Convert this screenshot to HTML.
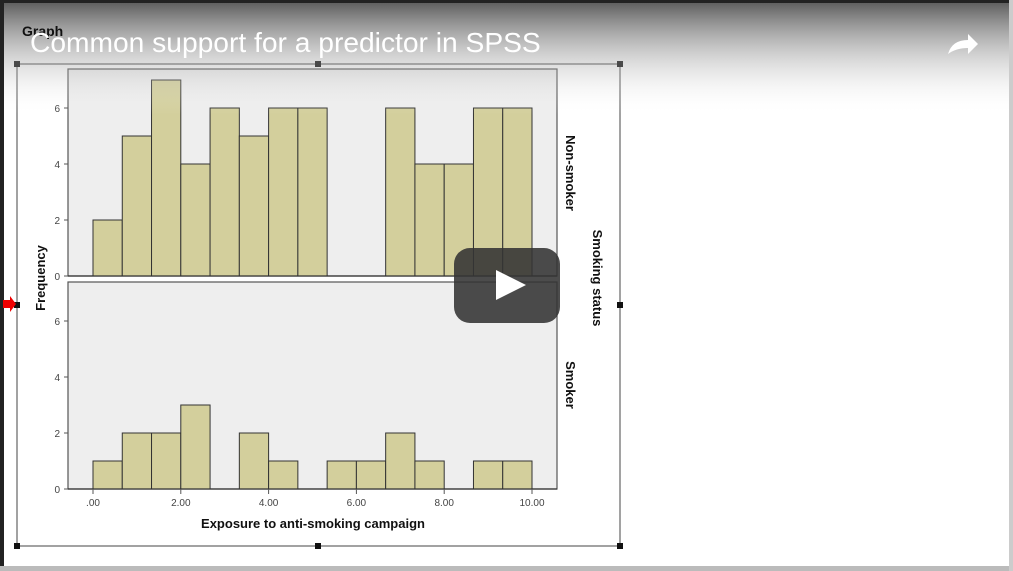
<!DOCTYPE html>
<html><head><meta charset="utf-8"><style>
body{margin:0;width:1013px;height:571px;overflow:hidden;background:#fff;font-family:"Liberation Sans",sans-serif;position:relative}
</style></head><body>
<div style="position:absolute;left:0;top:0;width:1013px;height:571px;background:#fff"></div>
<svg width="1013" height="571" style="position:absolute;left:0;top:0">
<defs><linearGradient id="tg" x1="0" y1="0" x2="0" y2="1">
<stop offset="0" stop-color="#3a3a3a" stop-opacity="0.85"/><stop offset="1" stop-color="#fff" stop-opacity="0"/></linearGradient></defs>
<g id="g"></g>
<rect x="0" y="0" width="1013" height="115" fill="url(#tg)"/>
<rect x="0" y="0" width="1013" height="3" fill="#222"/>
<rect x="0" y="0" width="4" height="571" fill="#222"/>
<rect x="0" y="566" width="1013" height="5" fill="#bbb"/>
<rect x="1009" y="0" width="4" height="571" fill="#ccc"/>
<text x="22" y="36" font-size="14" font-weight="bold" fill="#111">Graph</text>
<text x="30" y="52" font-size="28.2" fill="#fff">Common support for a predictor in SPSS</text>
<path d="M948 54 q4-14 20-14 v-6 l10 10 -10 10 v-6 q-12 0 -20 6z" fill="#fff"/>
<g><rect x="454" y="248" width="106" height="75" rx="16" fill="#333" fill-opacity="0.88"/><path d="M496 270 L526 285 L496 300Z" fill="#fff"/></g>
<path d="M3 300 h7 v-4 l6 8 -6 8 v-4 h-7z" fill="#e00"/>
</svg>
<script>
const bins=[0,1,2,3,4,5,6,7,8,9,10,11,12,13,14];
const nonSmoker=[2,5,7,4,6,5,6,6,0,0,6,4,4,6,6];
const smoker=[1,2,2,3,0,2,1,0,1,1,2,1,0,1,1];
const yTicks=[0,2,4,6];
const xTicks=[0,2,4,6,8,10];
const xLabels=[".00","2.00","4.00","6.00","8.00","10.00"];
const NS="http://www.w3.org/2000/svg";
const g=document.getElementById('g');
function el(t,a,p){const e=document.createElementNS(NS,t);for(const k in a)e.setAttribute(k,a[k]);(p||g).appendChild(e);return e;}
const xs=v=>93+v*43.9;
const binW=10/15;
function panel(top,bottom,data,name){
  const y=v=>bottom-v*28;
  const r=el('rect',{x:68,y:top,width:489,height:bottom-top,fill:'#eeeeee',stroke:'#555','stroke-width':1.2});
  
  
  data.forEach((v,i)=>{if(!v)return;
    const b=el('rect',{x:xs(bins[i]*binW),y:y(v),width:xs(binW)-xs(0),height:bottom-y(v),fill:'#d3cf9c',stroke:'#333','stroke-width':1});
    
    
  });
  el('line',{x1:68,y1:bottom,x2:557,y2:bottom,stroke:'#333','stroke-width':1.2});
  yTicks.forEach(t=>{
    el('line',{x1:64,y1:y(t),x2:68,y2:y(t),stroke:'#555'});
    const tx=el('text',{x:60,y:y(t)+4,'font-size':10,fill:'#444','text-anchor':'end'});tx.textContent=t;
    
    
  });
}
el('rect',{x:17,y:64,width:603,height:482,fill:'none',stroke:'#444','stroke-width':1});
[[17,64],[318,64],[620,64],[17,305],[620,305],[17,546],[318,546],[620,546]].forEach(p=>el('rect',{x:p[0]-3,y:p[1]-3,width:6,height:6,fill:'#111'}));
panel(69,276,nonSmoker,'non-smoker');
panel(282,489,smoker,'smoker');
xTicks.forEach((t,i)=>{
  el('line',{x1:xs(t),y1:489,x2:xs(t),y2:494,stroke:'#555'});
  const tx=el('text',{x:xs(t),y:506,'font-size':10,fill:'#444','text-anchor':'middle'});tx.textContent=xLabels[i];
  
  
});
function txt(s,x,y,rot,name,fs){const t=el('text',{x:x,y:y,'font-size':fs||13,'font-weight':'bold',fill:'#111','text-anchor':'middle',transform:rot?`rotate(${rot} ${x} ${y})`:''});t.textContent=s;
  
  }
txt('Exposure to anti-smoking campaign',313,528,0,'x-axis-title');
txt('Frequency',45,278,-90,'y-axis-title');
txt('Non-smoker',566,173,90,'non-smoker-panel-label');
txt('Smoker',566,385,90,'smoker-panel-label');
txt('Smoking status',593,278,90,'smoking-status-title');
</script>
</body></html>
